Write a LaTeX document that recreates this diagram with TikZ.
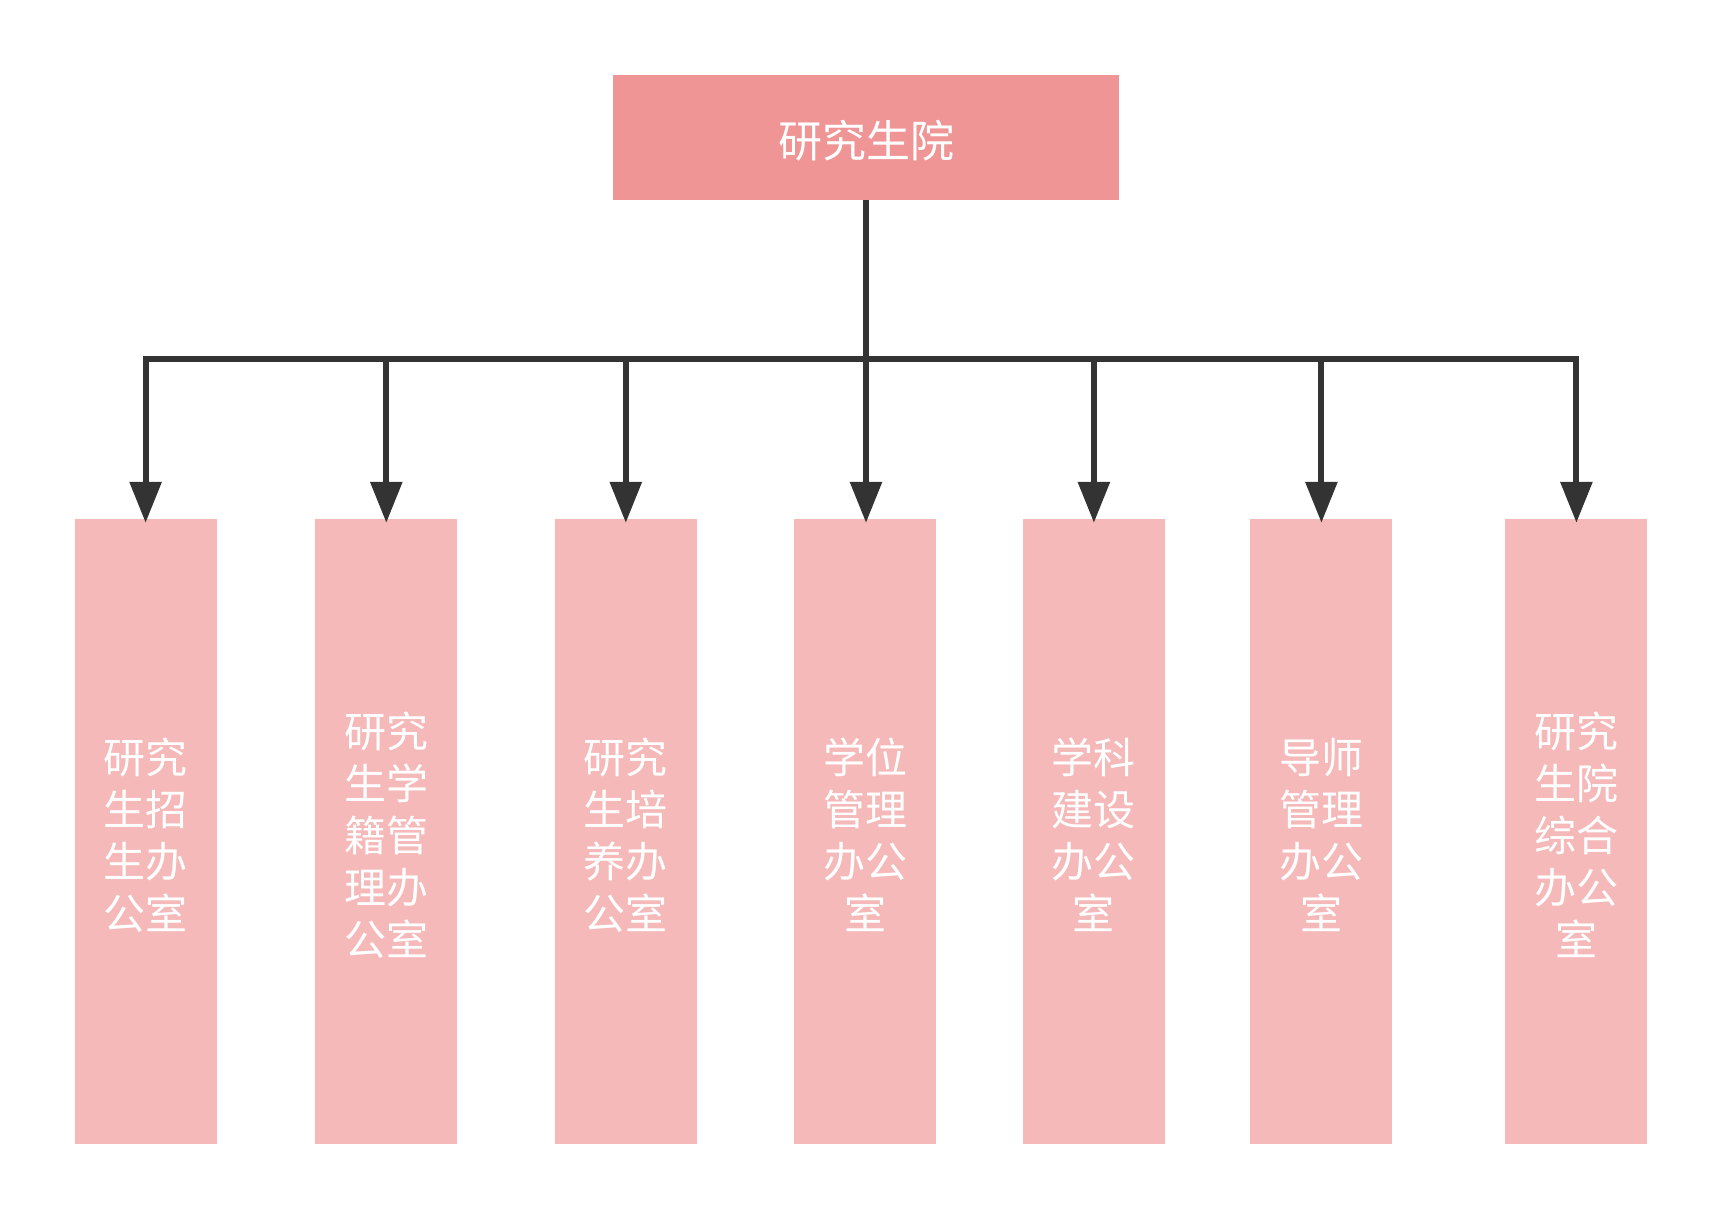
\documentclass[tikz,border=0pt]{standalone}
\usepackage{fontspec}
\usepackage{tikz}
\usetikzlibrary{arrows.meta}
\setmainfont{Noto Sans CJK SC}
\definecolor{headred}{HTML}{F09595}
\definecolor{officepink}{HTML}{F4B9B8}
\definecolor{linegray}{HTML}{333333}
\newcommand\officetext[1]{\raisebox{-10pt}[\height][\depth]{\begin{tabular}{@{}c@{}}#1\end{tabular}}}

\begin{document}
\begin{tikzpicture}[x=1pt,y=1pt,
    head/.style={fill=headred, text=white, minimum width=506pt, minimum height=125pt, inner sep=0pt, font=\fontsize{44}{52}\selectfont},
    office/.style={fill=officepink, text=white, minimum width=142pt, minimum height=625pt, inner sep=0pt, font=\fontsize{42}{52}\selectfont},
    link/.style={draw=linegray, line width=6pt, shorten >=-4pt, -{Triangle[length=41pt,width=31pt]}}]
            \useasboundingbox (0,0) rectangle (1723,-1221);

            \node[head] (root) at (866,-137.5) {\raisebox{-3pt}[\height][\depth]{研究生院}};
            \coordinate (hub) at (866,-359);

            \node[office] (o1) at (145.6,-831.5) {\officetext{研究\\生招\\生办\\公室}};
            \node[office] (o2) at (386.3,-831.5) {\officetext{研究\\生学\\籍管\\理办\\公室}};
            \node[office] (o3) at (625.8,-831.5) {\officetext{研究\\生培\\养办\\公室}};
            \node[office] (o4) at (865.4,-831.5) {\officetext{学位\\管理\\办公\\室}};
            \node[office] (o5) at (1093.9,-831.5) {\officetext{学科\\建设\\办公\\室}};
            \node[office] (o6) at (1321.4,-831.5) {\officetext{导师\\管理\\办公\\室}};
            \node[office] (o7) at (1576.4,-831.5) {\officetext{研究\\生院\\综合\\办公\\室}};

            \draw[link, -, shorten >=0pt] (root.south) -- (hub);
            \draw[link] (hub) -| (o1.north);
            \draw[link] (hub) -| (o2.north);
            \draw[link] (hub) -| (o3.north);
            \draw[link] (hub) -- (hub |- o4.north);
            \draw[link] (hub) -| (o5.north);
            \draw[link] (hub) -| (o6.north);
            \draw[link] (hub) -| (o7.north);
        \end{tikzpicture}
\end{document}
